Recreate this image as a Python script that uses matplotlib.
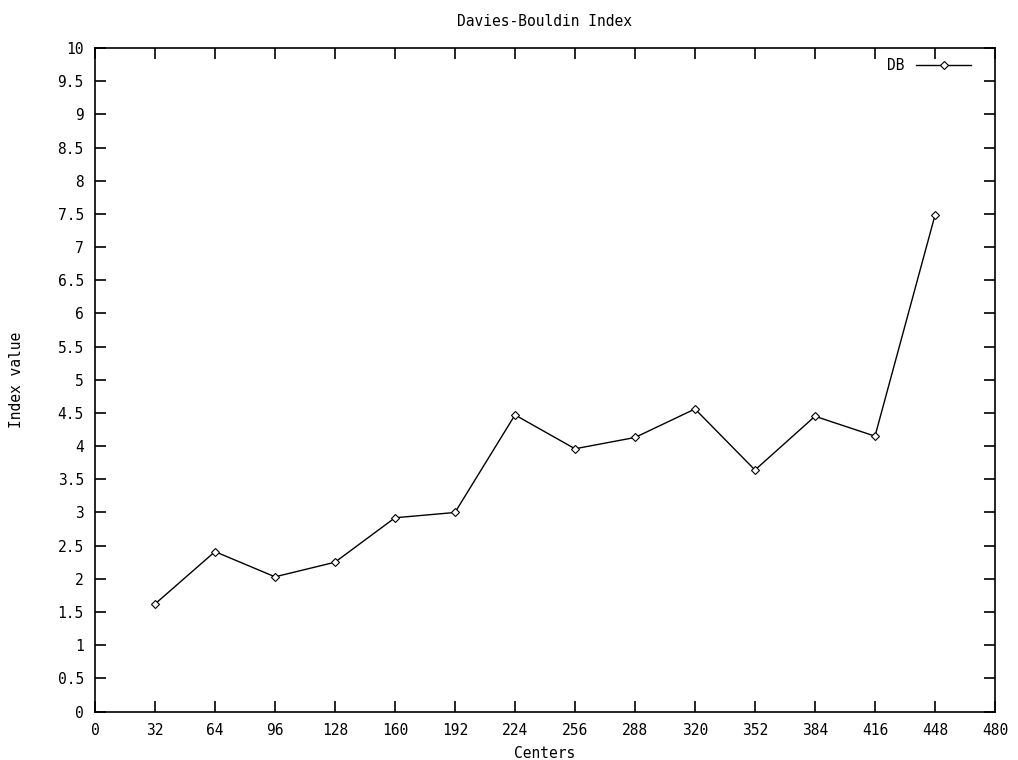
import matplotlib.pyplot as plt

plt.rcParams['font.family'] = ['DejaVu Sans Mono']

centers = [32, 64, 96, 128, 160, 192, 224, 256, 288, 320, 352, 384, 416, 448]
db_index = [1.62, 2.41, 2.03, 2.25, 2.92, 3.00, 4.47, 3.96, 4.13, 4.56, 3.64, 4.45, 4.15, 7.48]

x_ticks = list(range(0, 481, 32))
y_ticks = [i * 0.5 for i in range(21)]

fig = plt.figure(figsize=(10.18, 7.6), dpi=100)
ax = fig.add_axes([0.0933, 0.0638, 0.8841, 0.873])

ax.plot(centers, db_index, color='black', linewidth=1.0, marker='D',
        markersize=4, markerfacecolor='white', markeredgecolor='black',
        markeredgewidth=0.8, label='DB')

ax.set_xlim(0, 480)
ax.set_ylim(0, 10)
ax.set_xticks(x_ticks)
ax.set_yticks(y_ticks)
ax.set_yticklabels(['%g' % v for v in y_ticks])
ax.tick_params(direction='in', length=8, width=1.2, top=True, right=True,
               labelsize=10.5, pad=8)
for s in ax.spines.values():
    s.set_linewidth(1.2)

ax.set_title('Davies-Bouldin Index', fontsize=10.5, pad=16)
ax.set_xlabel('Centers', fontsize=10.5, labelpad=6)
ax.set_ylabel('Index value', fontsize=10.5, labelpad=24)

ax.legend(loc='upper right', bbox_to_anchor=(0.985, 1.0), frameon=False,
          markerfirst=False, handlelength=3.8, fontsize=10.5,
          borderaxespad=0.3)

fig.savefig('out.png', dpi=100)
